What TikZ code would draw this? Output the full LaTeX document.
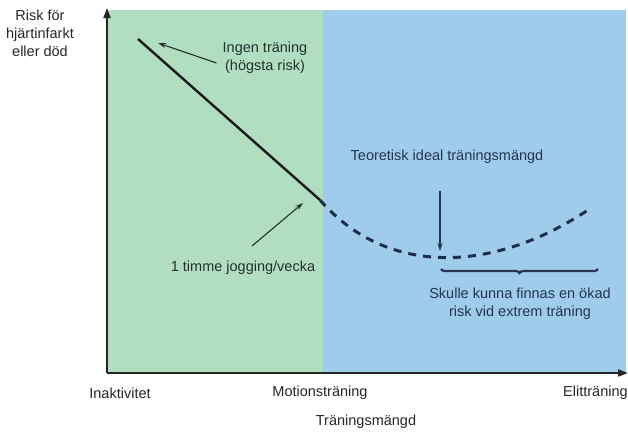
\documentclass[tikz,border=0pt]{standalone}
\usepackage{fontspec}
\setmainfont{Liberation Sans}
\usetikzlibrary{arrows.meta,decorations.pathreplacing}

\definecolor{motiongreen}{RGB}{178,222,192}
\definecolor{elitblue}{RGB}{158,204,234}
\definecolor{greentext}{RGB}{36,50,44}
\definecolor{bluetext}{RGB}{36,52,82}
\definecolor{curvecol}{RGB}{28,46,76}

\begin{document}
\begin{tikzpicture}[x=1pt,y=-1pt,
    lbl/.style={font=\fontsize{14.5}{18}\selectfont, align=center, inner sep=0pt},
    axis/.style={line width=2pt, -{Triangle[length=10pt,width=7pt]}},
    pointer/.style={line width=1.1pt, -{Stealth[length=8pt,width=5pt]}}]
  \useasboundingbox (0,0) rectangle (628,432);

  % Background areas
  \fill[motiongreen] (107,10) rectangle (323,373);
  \fill[elitblue] (323,10) rectangle (626,373);

  % Axes
  \coordinate (origin) at (107,373);
  \coordinate (top) at (107,8);
  \coordinate (xend) at (628,373);
  \draw[axis, black!85] (origin) -- (top);
  \draw[axis, black!85] (origin) -- (xend);

  % Axis labels
  \node[lbl, text=black!85] (risk) at (40,33) {Risk för\\hjärtinfarkt\\eller död};
  \node[lbl, text=black!85] (inakt) at (120,393) {Inaktivitet};
  \node[lbl, text=black!85] (motion) at (320,393) {Motionsträning};
  \node[lbl, text=black!85, anchor=west] (elit) at (563,393) {Elitträning};
  \node[lbl, text=black!85] (xlabel) at (366,422) {Träningsmängd};

  % Risk curve
  \coordinate (linestart) at (138,39);
  \coordinate (lineend) at (320,200);
  \coordinate (curveend) at (588,210);
  \draw[line width=2.4pt, black!90] (linestart) -- (lineend);
  \draw[line width=3pt, curvecol, dash pattern=on 8pt off 7pt]
    (lineend) .. controls (385,275) and (490,275) .. (curveend);

  % Annotations
  \node[lbl, text=greentext] (ingen) at (265,58) {Ingen träning\\(högsta risk)};
  \coordinate (ingentip) at (158,43);
  \draw[pointer, greentext] (ingen.west) ++(-6pt,-5pt) -- (ingentip);

  \node[lbl, text=greentext] (jogg) at (243,268) {1 timme jogging/vecka};
  \coordinate (joggfoot) at (252,246);
  \coordinate (joggtip) at (303,203);
  \draw[pointer, greentext] (joggfoot) -- (joggtip);

  \node[lbl, text=bluetext] (ideal) at (447,157) {Teoretisk ideal träningsmängd};
  \coordinate (idealfoot) at (440,191);
  \coordinate (idealtip) at (440,251);
  \draw[pointer, bluetext] (idealfoot) -- (idealtip);

  \coordinate (bracel) at (441,269);
  \coordinate (bracer) at (598,269);
  \draw[line width=2.2pt, bluetext, decorate,
        decoration={brace, mirror, amplitude=4pt}] (bracel) -- (bracer);
  \node[lbl, text=bluetext] (extrem) at (520,304)
    {Skulle kunna finnas en ökad\\risk vid extrem träning};

\end{tikzpicture}
\end{document}
